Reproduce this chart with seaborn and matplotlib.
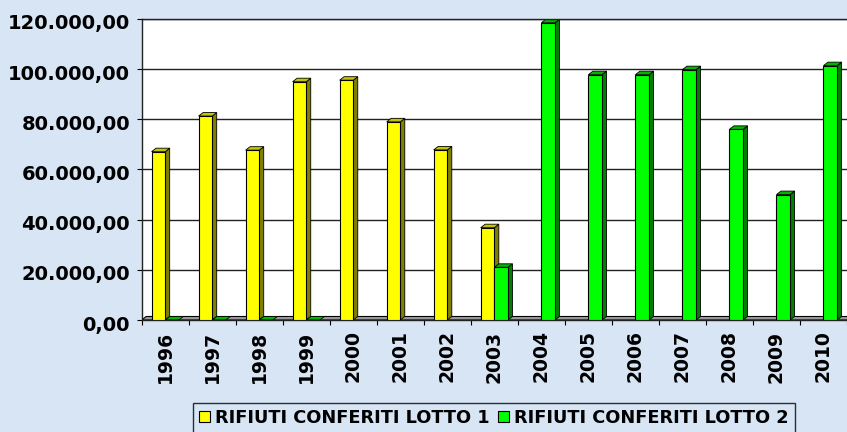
import numpy as np
import pandas as pd
import matplotlib
matplotlib.use("Agg")
import matplotlib.pyplot as plt
import matplotlib.transforms as mtransforms
import seaborn as sns
from matplotlib.patches import Polygon, Patch
from matplotlib.ticker import FuncFormatter, MultipleLocator

# values (tonnes of waste delivered per year)
anni = ["1996", "1997", "1998", "1999", "2000", "2001", "2002", "2003",
        "2004", "2005", "2006", "2007", "2008", "2009", "2010"]
lotto1 = [67100, 81300, 67700, 95000, 95600, 79000, 67800, 36800,
          np.nan, np.nan, np.nan, np.nan, np.nan, np.nan, np.nan]
lotto2 = [0, 0, 0, 0, np.nan, np.nan, np.nan, 21000,
          118500, 97800, 97800, 99800, 76000, 50000, 101400]
serie = ["RIFIUTI CONFERITI LOTTO 1", "RIFIUTI CONFERITI LOTTO 2"]

FRONT = {serie[0]: "#ffff00", serie[1]: "#00ff00"}
SIDE = {serie[0]: "#808000", serie[1]: "#008000"}
TOP = {serie[0]: "#c4c400", serie[1]: "#00b400"}
BG = "#d7e5f5"

df = pd.concat([
    pd.DataFrame({"anno": anni, "valore": lotto1, "serie": serie[0]}),
    pd.DataFrame({"anno": anni, "valore": lotto2, "serie": serie[1]}),
]).dropna()

plt.rcParams["font.family"] = ["DejaVu Sans"]
fig = plt.figure(figsize=(8.47, 4.32), dpi=100, facecolor=BG)
ax = fig.add_axes([141.7 / 847, 112 / 432, 1 - 141.7 / 847, 301 / 432])
ax.set_facecolor("white")

sns.barplot(data=df, x="anno", y="valore", hue="serie", order=anni, hue_order=serie,
            palette=FRONT, saturation=1, width=0.58, dodge=True, errorbar=None,
            legend=False, edgecolor="black", linewidth=0.8, ax=ax, zorder=3)

# fake the Excel 3D look: side and top faces built from each bar patch
dx, dy = 0.095, 1400
yellow_rgb = matplotlib.colors.to_rgb(FRONT[serie[0]])
for p in list(ax.patches):
    x0, w, h = p.get_x(), p.get_width(), p.get_height()
    if not np.isfinite(h):
        continue
    is_yellow = np.allclose(p.get_facecolor()[:3], yellow_rgb, atol=0.05)
    key = serie[0] if is_yellow else serie[1]
    x1 = x0 + w
    if h > 0:
        ax.add_patch(Polygon([(x1, 0), (x1 + dx, dy), (x1 + dx, h + dy), (x1, h)],
                             closed=True, fc=SIDE[key], ec="black", lw=0.6, zorder=2.5))
    ax.add_patch(Polygon([(x0, h), (x0 + dx, h + dy), (x1 + dx, h + dy), (x1, h)],
                         closed=True, fc=TOP[key], ec="black", lw=0.6, zorder=2.5))

# floor strip
ax.add_patch(Polygon([(-0.5, 0), (-0.5 + dx, dy), (14.5 + dx, dy), (14.5, 0)],
                     closed=True, fc="#9a9a9a", ec="black", lw=0.8, zorder=1.5))

ax.set_xlim(-0.5, 14.5)
ax.set_ylim(0, 120000)
ax.yaxis.set_major_locator(MultipleLocator(20000))
ax.yaxis.set_major_formatter(FuncFormatter(
    lambda v, _: f"{v:,.2f}".replace(",", "X").replace(".", ",").replace("X", ".")))
ax.grid(axis="y", color="#222222", lw=1.0)
ax.grid(axis="x", visible=False)
ax.set_axisbelow(True)
ax.set_xlabel("")
ax.set_ylabel("")

ax.set_xticks(range(len(anni)))
ax.set_xticklabels(anni, rotation=90, fontsize=13.5, fontweight="bold")
ax.set_xticks(np.arange(-0.5, len(anni), 1), minor=True)
ax.tick_params(axis="x", which="major", length=0, pad=7.5)
ax.tick_params(axis="x", which="minor", length=3.5, width=0.8, direction="out")
ax.tick_params(axis="y", length=3.6, width=0.8, pad=4.8, labelsize=14)
shift = mtransforms.ScaledTranslation(0, -3 / 100, fig.dpi_scale_trans)
for lab in ax.get_yticklabels():
    lab.set_fontweight("bold")
    lab.set_transform(lab.get_transform() + shift)

for s in ["left", "top", "bottom"]:
    ax.spines[s].set_color("#222222")
    ax.spines[s].set_linewidth(1.0)
ax.spines["right"].set_visible(False)

handles = [Patch(facecolor=FRONT[s], edgecolor="black", lw=0.8) for s in serie]
leg = fig.legend(handles, serie, loc="upper left",
                 bbox_to_anchor=(192.7 / 847, 1 - 402.7 / 432), ncol=2,
                 frameon=True, fancybox=False, edgecolor="black", facecolor="none",
                 prop=dict(weight="bold", size=12.8), handlelength=0.6, handleheight=0.6,
                 handletextpad=0.3, columnspacing=0.5, borderpad=0.35, borderaxespad=0)
leg.get_frame().set_linewidth(1.0)

fig.savefig("out.png", dpi=100, facecolor=BG)
